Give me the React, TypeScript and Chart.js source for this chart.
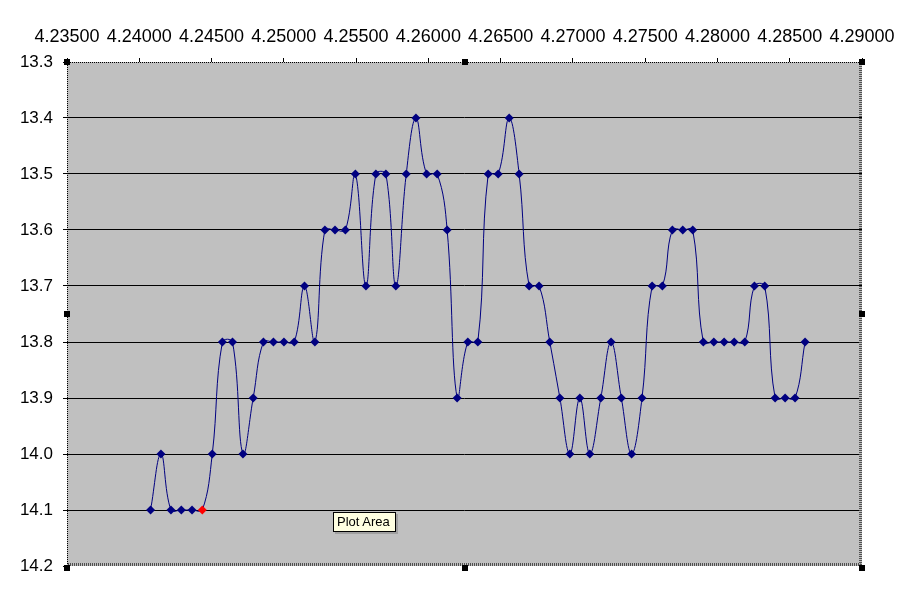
import React, { useEffect, useRef } from "react";
import { Chart, registerables } from "chart.js";

Chart.register(...registerables);

// Data
const xValues: number[] = [
  4.24078, 4.2415, 4.24219, 4.24291, 4.24365, 4.24436, 4.24505, 4.24575, 4.24645, 4.24717,
  4.24788, 4.24859, 4.24928, 4.25001, 4.25072, 4.25143, 4.25215, 4.25284, 4.25354, 4.25426,
  4.25495, 4.25568, 4.25637, 4.25706, 4.25775, 4.25847, 4.25914, 4.25988, 4.26061, 4.2613,
  4.26199, 4.26273, 4.26342, 4.26414, 4.26483, 4.26559, 4.26628, 4.26697, 4.26766, 4.2684,
  4.2691, 4.26979, 4.27048, 4.27117, 4.27193, 4.27264, 4.27335, 4.27406, 4.27478, 4.27548,
  4.27619, 4.27688, 4.2776, 4.27829, 4.27902, 4.27975, 4.28046, 4.28116, 4.28189, 4.28256,
  4.28327, 4.28399, 4.28468, 4.28537, 4.28606,
];
const yValues: number[] = [
  14.1, 14.0, 14.1, 14.1, 14.1, 14.1, 14.0, 13.8, 13.8, 14.0,
  13.9, 13.8, 13.8, 13.8, 13.8, 13.7, 13.8, 13.6, 13.6, 13.6,
  13.5, 13.7, 13.5, 13.5, 13.7, 13.5, 13.4, 13.5, 13.5, 13.6,
  13.9, 13.8, 13.8, 13.5, 13.5, 13.4, 13.5, 13.7, 13.7, 13.8,
  13.9, 14.0, 13.9, 14.0, 13.9, 13.8, 13.9, 14.0, 13.9, 13.7,
  13.7, 13.6, 13.6, 13.6, 13.8, 13.8, 13.8, 13.8, 13.8, 13.7,
  13.7, 13.9, 13.9, 13.9, 13.8,
];
const highlightIndex = 5;
const xTicks: number[] = [4.235, 4.24, 4.245, 4.25, 4.255, 4.26, 4.265, 4.27, 4.275, 4.28, 4.285, 4.29];
const yTicks: number[] = [13.3, 13.4, 13.5, 13.6, 13.7, 13.8, 13.9, 14.0, 14.1, 14.2];

const framePlugin = {
  id: "frame",
  beforeDraw(chart: any) {
    const { ctx, chartArea: a } = chart;
    ctx.save();
    ctx.fillStyle = "#C0C0C0";
    ctx.fillRect(a.left, a.top, a.right - a.left, a.bottom - a.top);
    ctx.restore();
  },
  afterDraw(chart: any) {
    const { ctx, chartArea: a } = chart;
    ctx.save();
    // dotted left/top border
    ctx.strokeStyle = "#000";
    ctx.lineWidth = 1;
    ctx.setLineDash([1, 1]);
    ctx.beginPath();
    ctx.moveTo(a.left + 0.5, a.bottom);
    ctx.lineTo(a.left + 0.5, a.top + 0.5);
    ctx.lineTo(a.right, a.top + 0.5);
    ctx.stroke();
    // checkered right/bottom border
    ctx.strokeStyle = "#505050";
    ctx.lineWidth = 3;
    ctx.setLineDash([1, 1]);
    ctx.beginPath();
    ctx.moveTo(a.right - 1.5, a.top);
    ctx.lineTo(a.right - 1.5, a.bottom - 1.5);
    ctx.lineTo(a.left, a.bottom - 1.5);
    ctx.stroke();
    ctx.setLineDash([]);
    // selection handles
    ctx.fillStyle = "#000";
    const mx = (a.left + a.right) / 2;
    const my = (a.top + a.bottom) / 2;
    const pts = [
      [a.left, a.top], [mx, a.top], [a.right, a.top],
      [a.left, my], [a.right, my],
      [a.left, a.bottom + 2], [mx, a.bottom + 2], [a.right, a.bottom + 2],
    ];
    pts.forEach(([x, y]) => ctx.fillRect(Math.round(x) - 3, Math.round(y) - 3, 6, 6));
    ctx.restore();
  },
};

export default function App() {
  const canvasRef = useRef<HTMLCanvasElement | null>(null);

  useEffect(() => {
    if (!canvasRef.current) return;
    const data = xValues.map((x, i) => ({ x, y: yValues[i] }));
    const colors = yValues.map((_, i) => (i === highlightIndex ? "#FF0000" : "#000080"));
    const chart = new Chart(canvasRef.current, {
      type: "scatter",
      data: {
        datasets: [
          {
            data,
            showLine: true,
            tension: 0.4,
            borderColor: "#000080",
            borderWidth: 1,
            pointStyle: "rectRot",
            pointRadius: 4.5,
            pointBackgroundColor: colors,
            pointBorderColor: colors,
            pointBorderWidth: 0,
          },
        ],
      },
      options: {
        responsive: false,
        animation: false,
        events: [],
        layout: { padding: { left: 0, top: 0, right: 39, bottom: 31 } },
        plugins: { legend: { display: false }, tooltip: { enabled: false } },
        scales: {
          x: {
            type: "linear",
            position: "top",
            min: 4.235,
            max: 4.29,
            afterBuildTicks: (s: any) => {
              s.ticks = xTicks.map((v) => ({ value: v }));
            },
            afterFit: (s: any) => {
              s.height = 62;
              s.paddingLeft = 0;
              s.paddingRight = 0;
            },
            border: { display: false },
            grid: {
              drawOnChartArea: false,
              drawTicks: true,
              tickLength: 4,
              color: "#000",
              tickColor: "#000",
            },
            ticks: {
              padding: 10,
              color: "#000",
              font: { family: "'Liberation Sans', Arial, sans-serif", size: 18 },
              maxRotation: 0,
              autoSkip: false,
              callback: (v: any) => Number(v).toFixed(5),
            },
          },
          y: {
            type: "linear",
            reverse: true,
            min: 13.3,
            max: 14.2,
            afterBuildTicks: (s: any) => {
              s.ticks = yTicks.map((v) => ({ value: v }));
            },
            afterFit: (s: any) => {
              s.width = 67;
              s.paddingTop = 0;
              s.paddingBottom = 0;
            },
            border: { display: false },
            grid: {
              drawTicks: true,
              tickLength: 4,
              color: (c: any) =>
                c.index === 0 || c.index === yTicks.length - 1 ? "rgba(0,0,0,0)" : "#000",
              tickColor: "#000",
              lineWidth: 1,
            },
            ticks: {
              padding: 10,
              color: "#000",
              font: { family: "'Liberation Sans', Arial, sans-serif", size: 17 },
              autoSkip: false,
              callback: (v: any) => Number(v).toFixed(1),
            },
          },
        },
      },
      plugins: [framePlugin],
    });
    return () => chart.destroy();
  }, []);

  return (
    <div style={{ position: "absolute", left: 0, top: 0, width: 901, height: 597, background: "#fff" }}>
      <canvas ref={canvasRef} width={901} height={597} style={{ display: "block" }} />
      <div
        style={{
          position: "absolute",
          left: 333,
          top: 512,
          width: 58,
          height: 18,
          background: "#FFFFE1",
          border: "1px solid #000",
          boxShadow: "2px 2px 0 rgba(128,128,128,0.5)",
          fontFamily: "'Liberation Sans', Arial, sans-serif",
          fontSize: 13,
          lineHeight: "18px",
          paddingLeft: 3,
          boxSizing: "content-box",
          color: "#000",
          whiteSpace: "nowrap",
          overflow: "hidden",
        }}
      >
        Plot Area
      </div>
    </div>
  );
}
